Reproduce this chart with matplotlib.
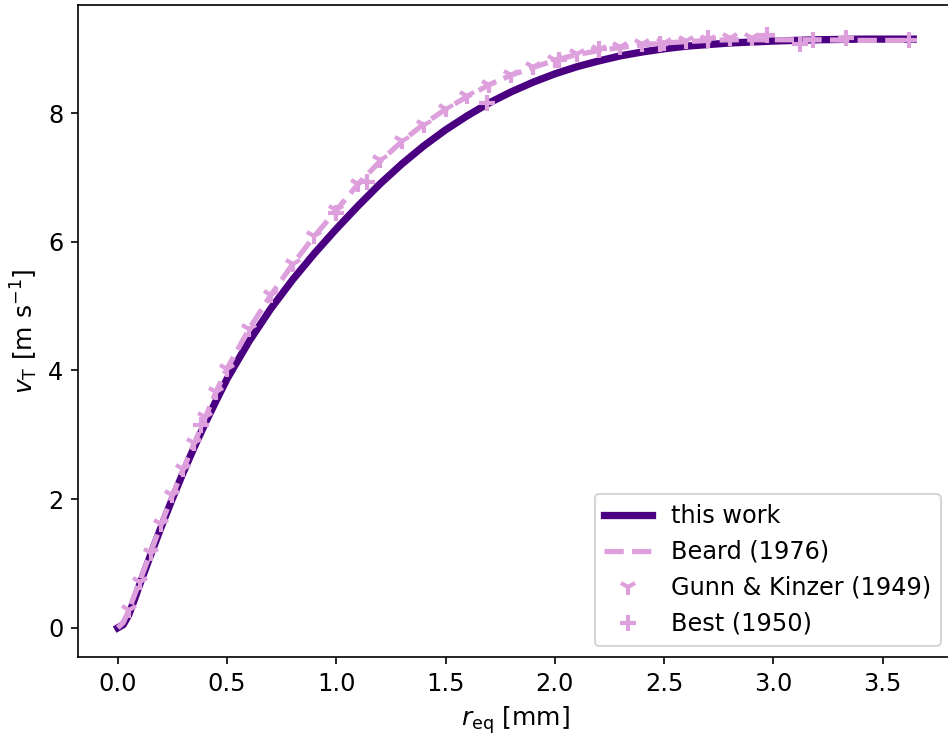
"""
Terminal fall speed of rain drops against equivalent radius:
parametrisation of this work vs. Beard (1976) and the lab data
of Gunn & Kinzer (1949) and Best (1950).
"""

import matplotlib
matplotlib.use("Agg")
import matplotlib.pyplot as plt

plt.rcParams.update({
    "font.size": 11.5,
    "axes.labelsize": 12,
    "xtick.labelsize": 11.5,
    "ytick.labelsize": 11.5,
    "legend.fontsize": 11.5,
})

# ── Colours ───────────────────────────────────────────────────────────────────
INDIGO = "#4b0082"
PLUM = "#dda0dd"

# ── Data ──────────────────────────────────────────────────────────────────────
# this work
r_this = [0.0, 0.025, 0.05, 0.075, 0.1, 0.15, 0.2, 0.25, 0.3, 0.35, 0.4, 0.45,
          0.5, 0.6, 0.7, 0.8, 0.9, 1.0, 1.1, 1.2, 1.3, 1.4, 1.5, 1.6, 1.7,
          1.8, 1.9, 2.0, 2.1, 2.2, 2.3, 2.4, 2.5, 2.6, 2.8, 3.0, 3.2, 3.4,
          3.64]
v_this = [0.0, 0.05, 0.20, 0.43, 0.67, 1.13, 1.58, 2.01, 2.42, 2.81, 3.18,
          3.53, 3.87, 4.45, 4.96, 5.41, 5.82, 6.20, 6.56, 6.90, 7.21, 7.49,
          7.74, 7.96, 8.16, 8.33, 8.48, 8.61, 8.72, 8.81, 8.89, 8.95, 9.00,
          9.04, 9.09, 9.12, 9.14, 9.15, 9.15]

# Beard (1976)
r_beard = [0.0, 0.025, 0.05, 0.1, 0.15, 0.2, 0.25, 0.3, 0.35, 0.4, 0.45, 0.5,
           0.6, 0.7, 0.8, 0.9, 1.0, 1.1, 1.2, 1.3, 1.4, 1.5, 1.6, 1.7, 1.8,
           1.9, 2.0, 2.1, 2.2, 2.3, 2.4, 2.5, 2.6, 2.7, 2.8, 2.9, 3.0, 3.2,
           3.4, 3.64]
v_beard = [0.0, 0.08, 0.27, 0.72, 1.17, 1.62, 2.06, 2.47, 2.87, 3.27, 3.67,
           4.03, 4.64, 5.17, 5.65, 6.09, 6.49, 6.90, 7.25, 7.56, 7.83, 8.06,
           8.26, 8.44, 8.59, 8.71, 8.82, 8.91, 8.97, 9.02, 9.06, 9.09, 9.11,
           9.13, 9.14, 9.14, 9.14, 9.14, 9.13, 9.13]

# Gunn & Kinzer (1949)
r_gk = [0.05, 0.1, 0.15, 0.2, 0.25, 0.3, 0.35, 0.4, 0.45, 0.5, 0.6, 0.7, 0.8,
        0.9, 1.0, 1.1, 1.2, 1.3, 1.4, 1.5, 1.6, 1.7, 1.8, 1.9, 2.0, 2.1, 2.2,
        2.3, 2.4, 2.5, 2.6, 2.7, 2.8, 2.9]
v_gk = [0.27, 0.72, 1.17, 1.62, 2.06, 2.47, 2.87, 3.27, 3.67, 4.03, 4.64, 5.17,
        5.65, 6.09, 6.49, 6.90, 7.27, 7.57, 7.82, 8.06, 8.26, 8.44, 8.60, 8.72,
        8.83, 8.92, 8.98, 9.03, 9.07, 9.09, 9.12, 9.14, 9.16, 9.17]

# Best (1950)
r_best = [0.38, 1.0, 1.14, 1.69, 2.02, 2.20, 2.48, 2.70, 2.97, 3.12, 3.18,
          3.33, 3.62]
v_best = [3.15, 6.45, 6.93, 8.15, 8.82, 9.00, 9.08, 9.17, 9.22, 9.08, 9.14,
          9.16, 9.14]

# ── Figure ────────────────────────────────────────────────────────────────────
# the reference is cropped on the right: the right spine sits just off-canvas
fig = plt.figure(figsize=(948 / 150, 740 / 150), dpi=150)
ax = fig.add_axes([0.0823, 0.1115, 0.923, 0.8818])

ax.plot(r_this, v_this, color=INDIGO, lw=3.5, label="this work", zorder=2)
ax.plot(r_beard, v_beard, color=PLUM, lw=2.5, ls="--",
        label="Beard (1976)", zorder=3)
ax.plot(r_gk, v_gk, ls="none", marker="1", ms=8, mew=2, color=PLUM,
        label="Gunn & Kinzer (1949)", zorder=4)
ax.plot(r_best, v_best, ls="none", marker="+", ms=8, mew=2, color=PLUM,
        label="Best (1950)", zorder=4)

ax.set_xlabel(r"$r_\mathrm{eq}$ [mm]")
ax.set_ylabel(r"$v_\mathrm{T}$ [m s$^{-1}$]")
ax.legend(loc="lower right")

fig.savefig("out.png", dpi=150)
